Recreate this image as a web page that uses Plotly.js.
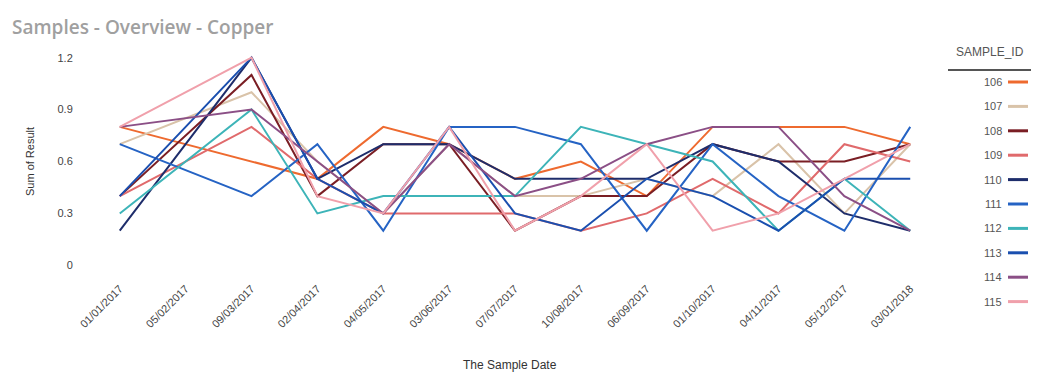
<!DOCTYPE html>
<html>
<head>
<meta charset="utf-8">
<script src="https://cdn.plot.ly/plotly-3.0.1.min.js"></script>
<style>html,body{margin:0;padding:0;background:#fff;}#chart{width:1052px;height:382px;}</style>
</head>
<body>
<div id="chart"></div>
<script>
const dates = ['01/01/2017','05/02/2017','09/03/2017','02/04/2017','04/05/2017','03/06/2017','07/07/2017','10/08/2017','06/09/2017','01/10/2017','04/11/2017','05/12/2017','03/01/2018'];
const sampleIds = ['106','107','108','109','110','111','112','113','114','115'];
const s106 = [0.8,null,0.6,0.5,0.8,0.7,0.5,0.6,0.4,0.8,0.8,0.8,0.7];
const s107 = [0.7,null,1.0,0.6,0.3,0.7,0.4,0.4,0.5,0.4,0.7,0.3,0.7];
const s108 = [0.4,null,1.1,0.4,0.7,0.7,0.2,0.4,0.4,0.7,0.6,0.6,0.7];
const s109 = [0.4,null,0.8,0.5,0.3,0.3,0.3,0.2,0.3,0.5,0.3,0.7,0.6];
const s110 = [0.2,null,1.2,0.5,0.7,0.7,0.5,0.5,0.5,0.7,0.6,0.3,0.2];
const s111 = [0.7,null,0.4,0.7,0.2,0.8,0.8,0.7,0.2,0.7,0.4,0.2,0.8];
const s112 = [0.3,null,0.9,0.3,0.4,0.4,0.4,0.8,0.7,0.6,0.2,0.5,0.2];
const s113 = [0.4,null,1.2,0.5,0.3,0.8,0.3,0.2,0.5,0.4,0.2,0.5,0.5];
const s114 = [0.8,null,0.9,0.6,0.3,0.7,0.4,0.5,0.7,0.8,0.8,0.4,0.2];
const s115 = [0.8,null,1.2,0.4,0.3,0.8,0.2,0.4,0.7,0.2,0.3,0.5,0.7];
const seriesValues = [s106,s107,s108,s109,s110,s111,s112,s113,s114,s115];
const colors = ['#EE6A2F','#D9C3A9','#7A1E24','#E06A6C','#1E2D6B','#2563C4','#3DB4B8','#1A4FAF','#8B4F86','#F0A0AB'];

const W = 1052, H = 382;
const M = {l:100, r:122, t:49, b:108};
const pw = W - M.l - M.r, ph = H - M.t - M.b;
const px = x => (x - M.l) / pw;
const py = y => 1 - (y - M.t) / ph;
const labelFont = {family:'Liberation Sans, Arial, sans-serif', size:11, color:'#555'};

const traces = sampleIds.map((id, i) => ({
  type: 'scatter', mode: 'lines', name: id,
  x: dates, y: seriesValues[i], connectgaps: true,
  line: {color: colors[i], width: 2}, hoverinfo: 'x+y+name'
}));

const annotations = [
  {xref:'paper', yref:'paper', x: px(990), y: py(52), xanchor:'center', yanchor:'middle',
   text:'SAMPLE_ID', showarrow:false, font:{family:'Liberation Sans, Arial, sans-serif', size:12, color:'#555'}},
  {xref:'paper', yref:'paper', x: px(510), y: py(365), xanchor:'center', yanchor:'middle',
   text:'The Sample Date', showarrow:false, font:{family:'Liberation Sans, Arial, sans-serif', size:12, color:'#333'}}
];
const shapes = [{
  type:'line', xref:'paper', yref:'paper', x0: px(948), x1: px(1031), y0: py(70), y1: py(70),
  line:{color:'#555', width:2}
}];
sampleIds.forEach((id, i) => {
  const yy = 82 + i * 24.4;
  annotations.push({
    xref:'paper', yref:'paper', x: px(1004), y: py(yy), xanchor:'right', yanchor:'middle',
    text: id, showarrow:false, font: labelFont
  });
  shapes.push({
    type:'line', xref:'paper', yref:'paper', x0: px(1008), x1: px(1028), y0: py(yy), y1: py(yy),
    line:{color: colors[i], width:3}
  });
});

const layout = {
  width: W, height: H,
  margin: M,
  paper_bgcolor:'#fff', plot_bgcolor:'#fff',
  showlegend: false,
  title: {text:'Samples - Overview - Copper', x: 12/W, xanchor:'left', xref:'container', y: 1 - 27/H, yanchor:'middle', yref:'container',
          font:{family:'Open Sans, sans-serif', size:19, color:'#a0a0a0', weight:600}},
  xaxis: {
    type:'category', categoryorder:'array', categoryarray: dates,
    range:[-0.3, 12.3], showgrid:false, zeroline:false, showline:false,
    ticks:'outside', ticklen:3, tickcolor:'rgba(0,0,0,0)', tickangle:-45,
    tickfont:{family:'Liberation Sans, Arial, sans-serif', size:11, color:'#444'},
    automargin:false
  },
  yaxis: {
    range:[-0.05, 1.25], tick0:0, dtick:0.3, showgrid:false, zeroline:false, showline:false,
    ticks:'outside', ticklen:24, tickcolor:'rgba(0,0,0,0)',
    tickfont:{family:'Liberation Sans, Arial, sans-serif', size:11, color:'#444'},
    title:{text:'Sum of Result', standoff:20, font:{family:'Liberation Sans, Arial, sans-serif', size:11, color:'#333'}},
    automargin:false
  },
  annotations: annotations,
  shapes: shapes
};

Plotly.newPlot('chart', traces, layout, {displayModeBar:false, staticPlot:true});
</script>
</body>
</html>
